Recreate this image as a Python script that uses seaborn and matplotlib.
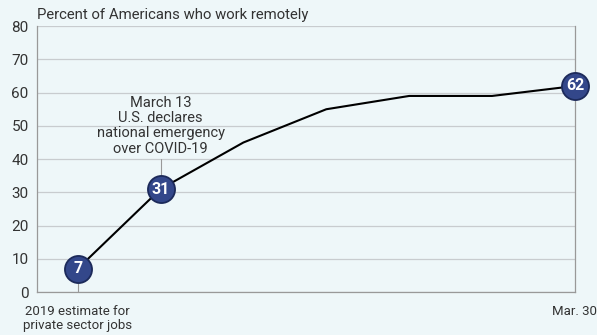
import numpy as np
import pandas as pd
import seaborn as sns
import matplotlib.pyplot as plt

# share of Americans working remotely
step = [0, 1, 2, 3, 4, 5, 6]
pct = [7, 31, 45, 55, 59, 59, 62]
labelled = {0: "7", 1: "31", 6: "62"}
xtick_pos = [0, 6]
xtick_labels = ["2019 estimate for\nprivate sector jobs", "Mar. 30"]

bg = "#eef7f9"
navy = "#33478a"
navy_edge = "#1c2a5a"
grey = "#999999"
txt = "#333333"

sns.set_theme(style="white")
plt.rcParams["font.family"] = ["Roboto", "DejaVu Sans"]

df = pd.DataFrame({"step": step, "pct": pct})

fig, ax = plt.subplots(figsize=(5.97, 3.35), dpi=100)
fig.patch.set_facecolor(bg)
ax.set_facecolor(bg)
fig.subplots_adjust(left=0.062, right=0.963, top=0.922, bottom=0.128)

sns.lineplot(data=df, x="step", y="pct", color="black", lw=1.5, ax=ax, zorder=3)

ax.set_xlim(-0.49, 6)
ax.set_ylim(0, 80)
ax.set_yticks(range(0, 81, 10))
ax.yaxis.grid(True, color="#c8cccf", lw=0.9)
ax.set_xticks(xtick_pos)
ax.set_xticklabels(xtick_labels, fontsize=9.5, color=txt, linespacing=1.1)
ax.tick_params(axis="y", labelsize=11, colors=txt, length=0, pad=6)
ax.tick_params(axis="x", length=6, color=grey, width=0.8, pad=3)
ax.set_xlabel("")
ax.set_ylabel("")

ax.spines["top"].set_visible(False)
for s in ["left", "bottom", "right"]:
    ax.spines[s].set_color(grey)
    ax.spines[s].set_linewidth(0.9)

# stalks from the points down to the axis / up to the note
ax.plot([0, 0], [0, pct[0]], color=grey, lw=0.8, zorder=2)
ax.plot([1, 1], [pct[1], 40], color=grey, lw=0.8, zorder=2)

for i, lab in labelled.items():
    ax.scatter(step[i], pct[i], s=380, color=navy, edgecolor=navy_edge, lw=1.3,
               zorder=5, clip_on=False)
    ax.text(step[i], pct[i], lab, color="white", fontsize=11.5, fontweight="bold",
            ha="center", va="center", zorder=6)

ax.text(1, 50, "March 13\nU.S. declares\nnational emergency\nover COVID-19",
        ha="center", va="center", fontsize=10.5, color=txt, linespacing=1.1,
        zorder=4)

fig.text(0.062, 0.955, "Percent of Americans who work remotely", fontsize=10.7,
         color=txt, ha="left", va="center")

fig.savefig("out.png", dpi=100, facecolor=bg)
